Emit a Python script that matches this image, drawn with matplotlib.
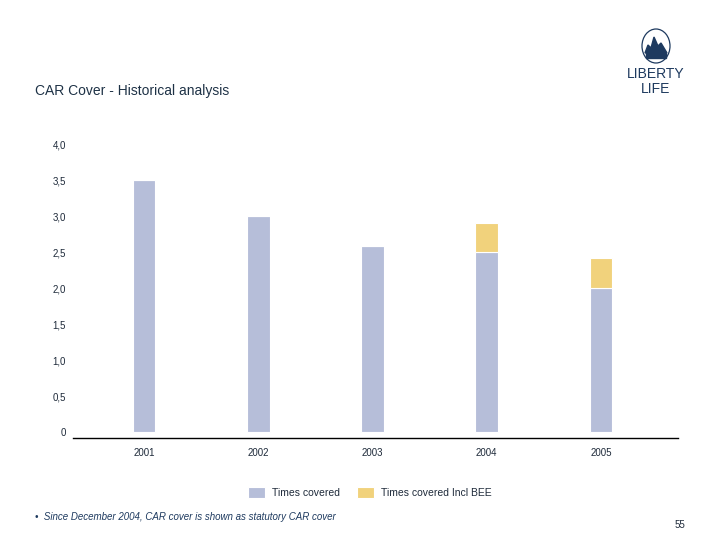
import matplotlib.pyplot as plt
from matplotlib.patches import Ellipse, Polygon, Rectangle

# data
years = ['2001', '2002', '2003', '2004', '2005']
times_covered = [3.5, 3.0, 2.58, 2.5, 2.0]
incl_bee = [0.0, 0.0, 0.0, 0.4, 0.42]
yticks = [0, 0.5, 1.0, 1.5, 2.0, 2.5, 3.0, 3.5, 4.0]
ytick_labels = ['0', '0,5', '1,0', '1,5', '2,0', '2,5', '3,0', '3,5', '4,0']

blue = '#b6bed9'
yellow = '#f1d27c'
navy = '#1e3a5f'
txt = '#1e2a3a'

plt.rcParams['font.family'] = ['Liberation Sans', 'DejaVu Sans']

fig = plt.figure(figsize=(7.2, 5.4), dpi=100)
ax = fig.add_axes([0.1014, 0.1889, 0.8403, 0.551])

x = list(range(len(years)))
ax.bar(x, times_covered, width=0.2, color=blue, edgecolor='white', linewidth=0.8,
       label='Times covered')
ax.bar(x, incl_bee, width=0.2, bottom=times_covered, color=yellow,
       edgecolor='white', linewidth=0.8, label='Times covered Incl BEE')

ax.set_xlim(-0.621, 4.674)
ax.set_ylim(-0.083, 4.05)
for s in ['top', 'right', 'left']:
    ax.spines[s].set_visible(False)
ax.spines['bottom'].set_color('black')
ax.spines['bottom'].set_linewidth(1.0)

ax.set_yticks(yticks)
ax.set_yticklabels(ytick_labels, fontsize=7, color=txt)
ax.tick_params(axis='y', length=0, pad=5)
ax.set_xticks(x)
ax.set_xticklabels(years, fontsize=7, color=txt)
ax.tick_params(axis='x', length=0, pad=7)

# legend
leg = fig.legend(loc='center', bbox_to_anchor=(0.514, 0.088), ncol=2, frameon=False,
                 fontsize=7.5, handlelength=1.6, handleheight=1.2, columnspacing=1.6,
                 handletextpad=0.7)
for t in leg.get_texts():
    t.set_color(txt)

# title and notes
fig.text(35 / 720, 1 - 91 / 540, 'CAR Cover - Historical analysis', fontsize=10,
         color='#1e3246', va='center', ha='left')
fig.text(35 / 720, 1 - 517 / 540,
         '\u2022  Since December 2004, CAR cover is shown as statutory CAR cover',
         fontsize=7, style='italic', color=navy, va='center', ha='left')
fig.text(685 / 720, 1 - 525 / 540, '55', fontsize=7, color=txt, va='center', ha='right')

# logo
fig.text(656 / 720, 1 - 74 / 540, 'LIBERTY', fontsize=10, color=navy,
         ha='center', va='center')
fig.text(656 / 720, 1 - 89 / 540, 'LIFE', fontsize=10, color=navy,
         ha='center', va='center')
fig.patches.append(Ellipse((656 / 720, 1 - 46 / 540), 28 / 720, 34 / 540,
                           transform=fig.transFigure, fill=False,
                           edgecolor=navy, linewidth=0.9))
fig.patches.append(Rectangle((646 / 720, 1 - 58 / 540), 20 / 720, 5 / 540,
                             transform=fig.transFigure, color=navy))
flame = [(645, 53), (648, 45), (651, 48), (654, 37), (658, 46), (661, 43), (667, 53)]
fig.patches.append(Polygon([(a / 720, 1 - b / 540) for a, b in flame], closed=True,
                           transform=fig.transFigure, color=navy))

fig.savefig('out.png', dpi=100)
